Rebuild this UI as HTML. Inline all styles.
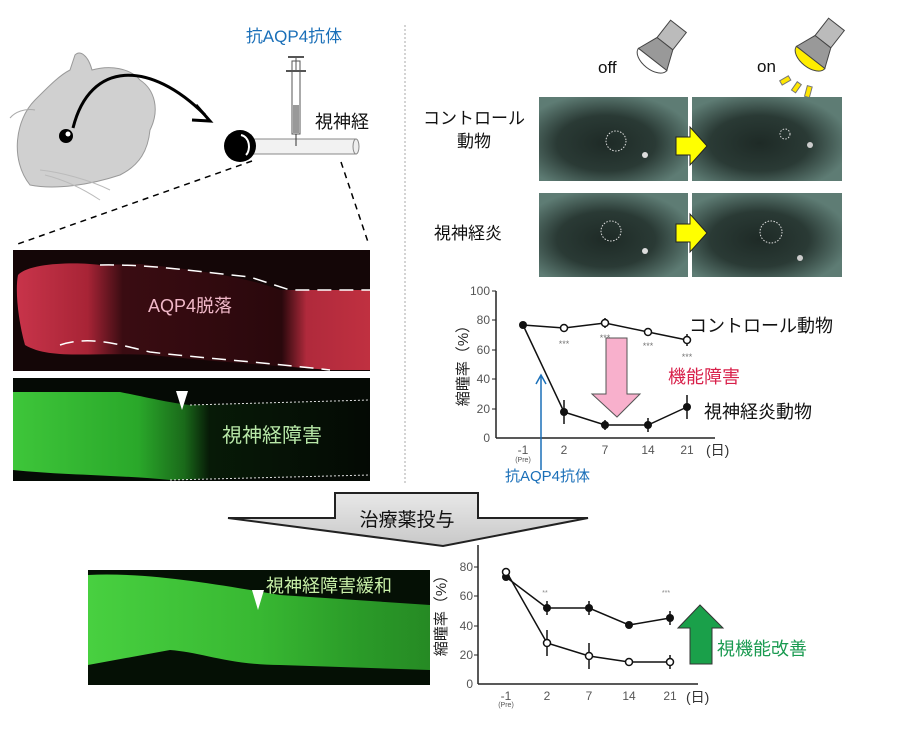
<!DOCTYPE html>
<html><head><meta charset="utf-8"><style>
html,body{margin:0;padding:0;background:#fff}
svg{display:block}
text{font-family:"Liberation Sans","Noto Sans CJK JP",sans-serif}
</style></head><body>
<svg width="900" height="731" viewBox="0 0 900 731" xmlns="http://www.w3.org/2000/svg">
<defs>
<linearGradient id="red" x1="0" x2="1">
<stop offset="0" stop-color="#c8344a"/><stop offset="0.2" stop-color="#a82436"/><stop offset="0.3" stop-color="#3a0c12"/><stop offset="0.75" stop-color="#2a080c"/><stop offset="0.82" stop-color="#b02a3c"/><stop offset="1" stop-color="#c03040"/>
</linearGradient>
<linearGradient id="grn" x1="0" x2="1">
<stop offset="0" stop-color="#3ec63a"/><stop offset="0.35" stop-color="#2aa82a"/><stop offset="0.48" stop-color="#1a6a1a"/><stop offset="0.55" stop-color="#071a07"/><stop offset="1" stop-color="#040904"/>
</linearGradient>
<linearGradient id="grn2" x1="0" x2="1">
<stop offset="0" stop-color="#48d040"/><stop offset="0.5" stop-color="#38b832"/><stop offset="0.8" stop-color="#2a9a28"/><stop offset="1" stop-color="#268a24"/>
</linearGradient>
<radialGradient id="eye" cx="0.45" cy="0.55" r="0.6">
<stop offset="0" stop-color="#1e2a26"/><stop offset="0.55" stop-color="#2a3a35"/><stop offset="1" stop-color="#5e7c74"/>
</radialGradient>
<linearGradient id="arrg" x1="0" y1="0" x2="0" y2="1"><stop offset="0" stop-color="#e8e8e8"/><stop offset="1" stop-color="#c8c8c8"/></linearGradient>
</defs>

<!-- mouse -->
<path d="M30,185 C10,160 15,120 35,100 C50,85 60,75 70,70 L75,55 C80,50 88,55 92,70 C110,65 130,68 140,80 C155,90 160,110 150,130 C148,150 140,165 120,175 C90,185 55,190 30,185 Z" fill="#d0d0d0" stroke="#999" stroke-width="1"/>
<path d="M35,110 C25,108 15,112 10,118" stroke="#aaa" fill="none"/>
<path d="M40,170 C60,172 90,180 110,190" stroke="#bbb" fill="none"/>
<path d="M45,175 C65,180 85,190 100,200" stroke="#bbb" fill="none"/>
<circle cx="66" cy="136" r="7" fill="#000"/><circle cx="68" cy="134" r="2.5" fill="#fff"/>
<path d="M73,128 C90,60 150,60 205,115" stroke="#000" stroke-width="3" fill="none"/>
<path d="M196,105 L210,121 L192,120" stroke="#000" stroke-width="3" fill="none"/>
<!-- eye ball + nerve -->
<rect x="250" y="139" width="106" height="15" fill="#f2f2f2" stroke="#888"/>
<ellipse cx="356" cy="146.5" rx="3" ry="7.5" fill="#eee" stroke="#888"/>
<circle cx="240" cy="146" r="16" fill="#000"/>
<path d="M241,135 C250,137 251,150 246,155" stroke="#fff" stroke-width="2" fill="none"/>
<!-- syringe -->
<rect x="292" y="61" width="8" height="73" fill="#fff" stroke="#555"/>
<line x1="288" y1="57" x2="304" y2="57" stroke="#555" stroke-width="2"/>
<line x1="296" y1="57" x2="296" y2="72" stroke="#555"/>
<line x1="286" y1="71" x2="306" y2="71" stroke="#555" stroke-width="2"/>
<rect x="293" y="105" width="6" height="28" fill="#999"/>
<line x1="296" y1="134" x2="296" y2="146" stroke="#333"/>
<text x="294" y="42" font-size="17" fill="#1a6fb8" text-anchor="middle">抗AQP4抗体</text>
<text x="315" y="128" font-size="18" fill="#111">視神経</text>
<line x1="252" y1="161" x2="15" y2="245" stroke="#000" stroke-width="1.5" stroke-dasharray="6,5"/>
<line x1="341" y1="162" x2="368" y2="242" stroke="#000" stroke-width="1.5" stroke-dasharray="6,5"/>
<line x1="405" y1="25" x2="405" y2="485" stroke="#aaa" stroke-dasharray="2,2"/>

<!-- red image -->
<rect x="13" y="250" width="357" height="121" fill="#140607"/>
<path d="M18,275 C30,262 80,262 100,265 L140,264 C200,270 250,278 280,290 L370,290 L370,370 L330,370 C280,366 220,362 150,355 C90,352 50,360 25,345 C18,320 15,290 18,275Z" fill="url(#red)"/>
<path d="M100,265 C150,264 200,272 250,277 L290,290 L370,290" stroke="#fff" stroke-width="1.5" fill="none" stroke-dasharray="14,8"/>
<path d="M60,345 C90,335 120,345 150,352 C200,358 260,362 330,370" stroke="#fff" stroke-width="1.5" fill="none" stroke-dasharray="14,8"/>
<text x="148" y="312" font-size="18" fill="#f0b8c8">AQP4脱落</text>
<!-- green image -->
<rect x="13" y="378" width="357" height="103" fill="#050a05"/>
<path d="M13,392 L120,392 C150,398 170,403 190,405 L370,400 L370,475 L170,480 C120,475 60,475 13,470Z" fill="url(#grn)"/>
<path d="M190,405 L370,400" stroke="#ddd" stroke-dasharray="2,2" fill="none"/>
<path d="M170,480 L370,475" stroke="#ddd" stroke-dasharray="2,2" fill="none"/>
<polygon points="176,391 188,391 182,410" fill="#fff"/>
<text x="222" y="442" font-size="20" fill="#b8e8a8">視神経障害</text>

<!-- treatment arrow -->
<polygon points="335,493 478,493 478,518 588,518 443,546 228,518 335,518" fill="url(#arrg)" stroke="#222" stroke-width="2"/>
<text x="407" y="526" font-size="19" fill="#111" text-anchor="middle">治療薬投与</text>

<!-- bottom green image -->
<rect x="88" y="570" width="342" height="115" fill="#051005"/>
<path d="M88,575 C150,572 220,585 280,595 L430,605 L430,670 L280,665 C230,665 200,652 170,650 L88,665Z" fill="url(#grn2)"/>
<polygon points="252,590 264,590 258,610" fill="#fff"/>
<text x="266" y="592" font-size="18" fill="#c8f0a8">視神経障害緩和</text>

<!-- right top -->
<text x="598" y="73" font-size="17" fill="#111">off</text>
<g transform="rotate(38 660 50)"><rect x="650" y="20" width="20" height="22" fill="#bbb" stroke="#444"/><polygon points="650,42 670,42 678,62 642,62" fill="#999" stroke="#444"/><path d="M642,62 A18,10 0 0,0 678,62Z" fill="#fff" stroke="#444"/></g>
<text x="757" y="72" font-size="17" fill="#111">on</text>
<g transform="rotate(38 818 48)"><rect x="808" y="18" width="20" height="22" fill="#bbb" stroke="#444"/><polygon points="808,40 828,40 836,60 800,60" fill="#999" stroke="#444"/><path d="M800,60 A18,10 0 0,0 836,60Z" fill="#ffee00" stroke="#444"/></g>
<rect x="783" y="75" width="5" height="10" fill="#ffe600" stroke="#777" transform="rotate(60 785 80)"/>
<rect x="794" y="82" width="5" height="10" fill="#ffe600" stroke="#777" transform="rotate(35 796 87)"/>
<rect x="806" y="86" width="5" height="11" fill="#ffe600" stroke="#777" transform="rotate(15 808 91)"/>

<text x="474" y="124" font-size="17" fill="#111" text-anchor="middle">コントロール</text>
<text x="474" y="147" font-size="17" fill="#111" text-anchor="middle">動物</text>
<text x="468" y="239" font-size="17" fill="#111" text-anchor="middle">視神経炎</text>

<g>
<rect x="539" y="97" width="149" height="84" fill="url(#eye)"/>
<rect x="692" y="97" width="150" height="84" fill="url(#eye)"/>
<rect x="539" y="193" width="149" height="84" fill="url(#eye)"/>
<rect x="692" y="193" width="150" height="84" fill="url(#eye)"/>
<circle cx="616" cy="141" r="10" fill="none" stroke="#ddd" stroke-dasharray="1.5,1.5"/>
<circle cx="785" cy="134" r="5" fill="none" stroke="#ddd" stroke-dasharray="1.5,1.5"/>
<circle cx="611" cy="231" r="10" fill="none" stroke="#ddd" stroke-dasharray="1.5,1.5"/>
<circle cx="771" cy="232" r="11" fill="none" stroke="#ddd" stroke-dasharray="1.5,1.5"/>
<circle cx="645" cy="155" r="3" fill="#ddd"/><circle cx="810" cy="145" r="3" fill="#ccc"/>
<circle cx="645" cy="251" r="3" fill="#ddd"/><circle cx="800" cy="258" r="3" fill="#ccc"/>
<polygon points="676,137 690,137 690,127 707,146 690,165 690,155 676,155" fill="#ffff00" stroke="#222"/>
<polygon points="676,224 690,224 690,214 707,233 690,252 690,242 676,242" fill="#ffff00" stroke="#222"/>
</g>

<!-- graph 1 -->
<g font-size="12" fill="#555">
<line x1="496" y1="291" x2="496" y2="438" stroke="#222" stroke-width="1.5"/>
<line x1="496" y1="438" x2="715" y2="438" stroke="#222" stroke-width="1.5"/>
<g stroke="#222"><line x1="492" y1="291" x2="496" y2="291"/><line x1="492" y1="320" x2="496" y2="320"/><line x1="492" y1="350" x2="496" y2="350"/><line x1="492" y1="379" x2="496" y2="379"/><line x1="492" y1="409" x2="496" y2="409"/></g>
<text x="490" y="295" text-anchor="end">100</text><text x="490" y="324" text-anchor="end">80</text><text x="490" y="354" text-anchor="end">60</text><text x="490" y="383" text-anchor="end">40</text><text x="490" y="413" text-anchor="end">20</text><text x="490" y="442" text-anchor="end">0</text>
<text x="523" y="454" text-anchor="middle">-1</text><text x="523" y="462" text-anchor="middle" font-size="7">(Pre)</text>
<text x="564" y="454" text-anchor="middle">2</text><text x="605" y="454" text-anchor="middle">7</text><text x="648" y="454" text-anchor="middle">14</text><text x="687" y="454" text-anchor="middle">21</text>
<text x="706" y="455" font-size="14" fill="#333">(日)</text>
</g>
<text transform="translate(468 362) rotate(-90)" font-size="15" fill="#222" text-anchor="middle">縮瞳率（%）</text>
<g stroke="#111" stroke-width="1.5" fill="none">
<polyline points="523,325 564,328 605,323 648,332 687,340"/>
<polyline points="523,325 564,412 605,425 648,425 687,407"/>
<line x1="564" y1="400" x2="564" y2="424"/><line x1="687" y1="395" x2="687" y2="419"/><line x1="648" y1="418" x2="648" y2="432"/><line x1="605" y1="420" x2="605" y2="430"/>
<line x1="687" y1="334" x2="687" y2="346"/><line x1="605" y1="318" x2="605" y2="328"/>
</g>
<g fill="#111"><circle cx="523" cy="325" r="4"/><circle cx="564" cy="412" r="4"/><circle cx="605" cy="425" r="4"/><circle cx="648" cy="425" r="4"/><circle cx="687" cy="407" r="4"/></g>
<g fill="#fff" stroke="#111" stroke-width="1.5"><circle cx="564" cy="328" r="3.5"/><circle cx="605" cy="323" r="3.5"/><circle cx="648" cy="332" r="3.5"/><circle cx="687" cy="340" r="3.5"/></g>
<g font-size="9" fill="#777" text-anchor="middle"><text x="564" y="347">***</text><text x="605" y="341">***</text><text x="648" y="349">***</text><text x="687" y="360">***</text></g>
<polygon points="606,338 627,338 627,394 640,394 617,417 592,394 606,394" fill="#f8b0cc" stroke="#555"/>
<text x="668" y="383" font-size="18" fill="#d8204a">機能障害</text>
<text x="689" y="332" font-size="18" fill="#111">コントロール動物</text>
<text x="704" y="418" font-size="18" fill="#111">視神経炎動物</text>
<line x1="541" y1="470" x2="541" y2="376" stroke="#1a6fb8" stroke-width="1.5"/>
<path d="M536,384 L541,375 L546,384" stroke="#1a6fb8" stroke-width="1.5" fill="none"/>
<text x="505" y="481" font-size="15" fill="#1a6fb8">抗AQP4抗体</text>

<!-- graph 2 -->
<g font-size="12" fill="#555">
<line x1="478" y1="545" x2="478" y2="684" stroke="#222" stroke-width="1.5"/>
<line x1="478" y1="684" x2="698" y2="684" stroke="#222" stroke-width="1.5"/>
<g stroke="#222"><line x1="474" y1="567" x2="478" y2="567"/><line x1="474" y1="596" x2="478" y2="596"/><line x1="474" y1="626" x2="478" y2="626"/><line x1="474" y1="655" x2="478" y2="655"/></g>
<text x="473" y="571" text-anchor="end">80</text><text x="473" y="600" text-anchor="end">60</text><text x="473" y="630" text-anchor="end">40</text><text x="473" y="659" text-anchor="end">20</text><text x="473" y="688" text-anchor="end">0</text>
<text x="506" y="700" text-anchor="middle">-1</text><text x="506" y="707" text-anchor="middle" font-size="7">(Pre)</text>
<text x="547" y="700" text-anchor="middle">2</text><text x="589" y="700" text-anchor="middle">7</text><text x="629" y="700" text-anchor="middle">14</text><text x="670" y="700" text-anchor="middle">21</text>
<text x="686" y="702" font-size="14" fill="#333">(日)</text>
</g>
<text transform="translate(446 612) rotate(-90)" font-size="15" fill="#222" text-anchor="middle">縮瞳率（%）</text>
<g stroke="#111" stroke-width="1.5" fill="none">
<polyline points="506,577 547,608 589,608 629,625 670,618"/>
<polyline points="506,571 547,643 589,656 629,662 670,662"/>
<line x1="547" y1="601" x2="547" y2="615"/><line x1="589" y1="601" x2="589" y2="615"/><line x1="670" y1="611" x2="670" y2="625"/>
<line x1="547" y1="630" x2="547" y2="656"/><line x1="589" y1="643" x2="589" y2="669"/><line x1="670" y1="655" x2="670" y2="669"/>
</g>
<g fill="#111"><circle cx="506" cy="577" r="4"/><circle cx="547" cy="608" r="4"/><circle cx="589" cy="608" r="4"/><circle cx="629" cy="625" r="4"/><circle cx="670" cy="618" r="4"/></g>
<g fill="#fff" stroke="#111" stroke-width="1.5"><circle cx="506" cy="572" r="3.5"/><circle cx="547" cy="643" r="3.5"/><circle cx="589" cy="656" r="3.5"/><circle cx="629" cy="662" r="3.5"/><circle cx="670" cy="662" r="3.5"/></g>
<g font-size="7" fill="#888" text-anchor="middle"><text x="545" y="595">**</text><text x="666" y="595">***</text></g>
<polygon points="690,664 712,664 712,628 723,628 700,605 678,628 690,628" fill="#1aa04a" stroke="#333"/>
<text x="717" y="655" font-size="18" fill="#1a9a50">視機能改善</text>
</svg>
</body></html>
